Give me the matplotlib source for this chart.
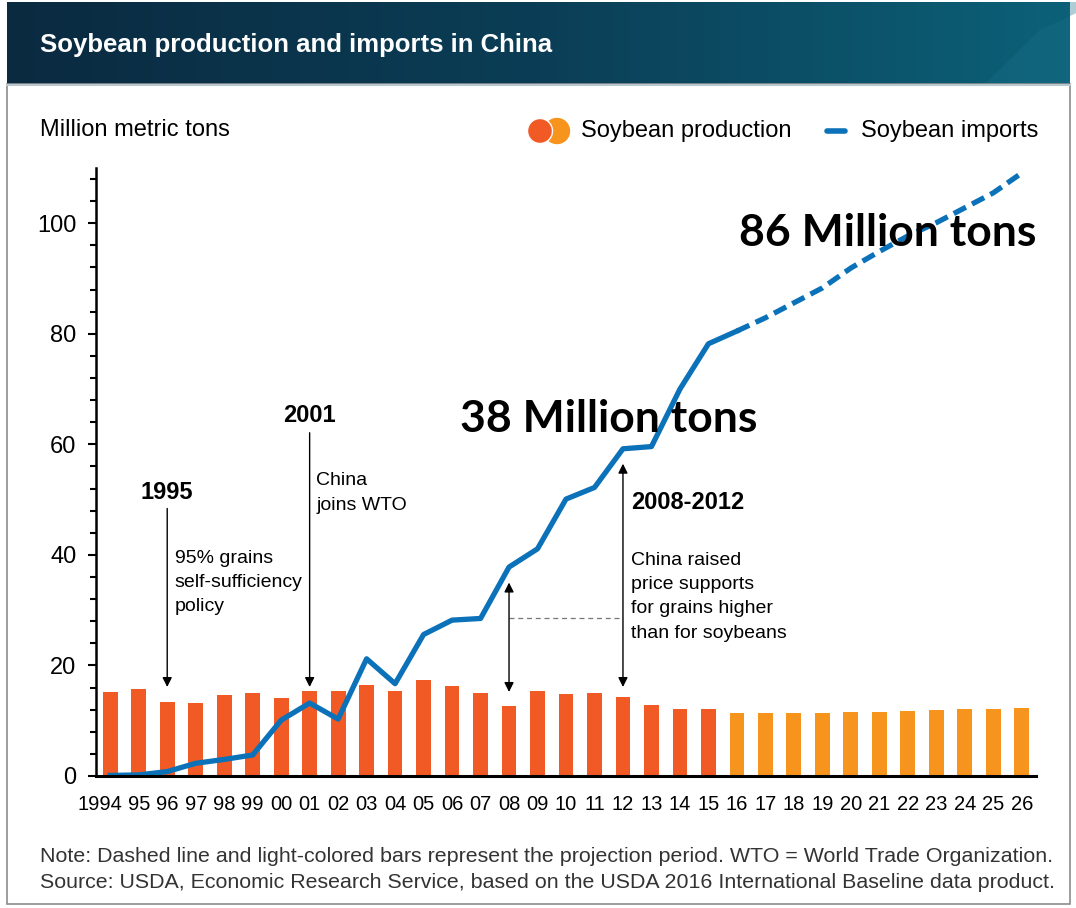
import numpy as np
import matplotlib.pyplot as plt
import matplotlib.transforms as mtransforms
from matplotlib.ticker import MultipleLocator
from matplotlib.patches import Rectangle, Circle, Polygon
from matplotlib.colors import LinearSegmentedColormap

plt.rcParams['font.family'] = ['Liberation Sans', 'DejaVu Sans']

# data (million metric tons)
years = np.arange(1994, 2027)
year_labels = ['1994', '95', '96', '97', '98', '99', '00', '01', '02', '03', '04',
               '05', '06', '07', '08', '09', '10', '11', '12', '13', '14', '15',
               '16', '17', '18', '19', '20', '21', '22', '23', '24', '25', '26']
production = [15.2, 15.8, 13.4, 13.2, 14.6, 15.0, 14.1, 15.3, 15.3, 16.4, 15.3,
              17.3, 16.2, 15.0, 12.6, 15.4, 14.9, 15.0, 14.3, 12.9, 12.1, 12.2,
              11.4, 11.4, 11.4, 11.4, 11.5, 11.6, 11.8, 11.9, 12.1, 12.2, 12.3]
imports = [0.1, 0.2, 0.8, 2.3, 3.0, 3.8, 10.1, 13.2, 10.3, 21.2, 16.7,
           25.6, 28.2, 28.5, 37.8, 41.1, 50.1, 52.2, 59.2, 59.6, 70.0, 78.2,
           80.5, 82.9, 85.6, 88.3, 91.9, 94.9, 97.7, 100.1, 102.8, 105.5, 109.1]
first_projection = 2016

red = '#f15a24'
orange = '#f7941d'
blue = '#0b72b9'

W, H = 1076, 908
fig = plt.figure(figsize=(W / 100, H / 100), dpi=100)

# background: header band + frame, drawn in pixel coordinates
bg = fig.add_axes([0, 0, 1, 1])
bg.set_xlim(0, W)
bg.set_ylim(H, 0)
bg.axis('off')
grad = np.linspace(0, 1, 256).reshape(1, -1)
cmap = LinearSegmentedColormap.from_list('hdr', ['#0a2a40', '#0b3e56', '#0c6178'])
bg.imshow(grad, cmap=cmap, extent=[7, 1070, 84, 2], aspect='auto', zorder=0)
bg.add_patch(Polygon([[985, 84], [1040, 30], [1100, 2], [1070, 2], [1070, 84]],
                     closed=True, color='#1a7088', alpha=0.35, lw=0, zorder=1))
bg.add_patch(Rectangle((7, 84), 1063, 820, fill=False, ec='#8c8c8c', lw=1.2, zorder=1))
bg.plot([7, 1070], [85, 85], color='#b9c7cf', lw=1.5, zorder=1)
bg.text(40, 45, 'Soybean production and imports in China', color='white',
        fontsize=18.5, fontweight='bold', va='center', ha='left')
bg.text(40, 130, 'Million metric tons', fontsize=17, va='center', ha='left')

# legend
bg.add_patch(Circle((557, 131), 12.5, color=orange, zorder=2))
bg.add_patch(Circle((540, 131), 12.5, fc=red, ec='white', lw=1, zorder=3))
bg.text(581, 131, 'Soybean production', fontsize=17, va='center', ha='left')
bg.plot([827, 845], [131, 131], color=blue, lw=4, solid_capstyle='round')
bg.text(861, 131, 'Soybean imports', fontsize=17, va='center', ha='left')

bg.text(40, 857, 'Note: Dashed line and light-colored bars represent the projection period. '
        'WTO = World Trade Organization.', fontsize=15.4, color='#333333', va='center')
bg.text(40, 882, 'Source: USDA, Economic Research Service, based on the USDA 2016 '
        'International Baseline data product.', fontsize=15.4, color='#333333', va='center')

# main chart
ax = fig.add_axes([96 / W, 1 - 776 / H, 940 / W, 608 / H])
ax.patch.set_alpha(0)
bar_colors = [red if y < first_projection else orange for y in years]
ax.bar(years, production, width=0.52, color=bar_colors, zorder=2)

hist = years <= first_projection
proj = years >= first_projection
ax.plot(years[hist], np.array(imports)[hist], color=blue, lw=3.8, zorder=3)
ax.plot(years[proj], np.array(imports)[proj], color=blue, lw=3.8, zorder=3,
        dashes=(2.6, 1.3))

ax.set_xlim(1993.5, 2026.5)
ax.set_ylim(0, 110)
ax.set_xticks(years)
ax.set_xticklabels(year_labels, fontsize=14.5)
ax.yaxis.set_major_locator(MultipleLocator(20))
ax.yaxis.set_minor_locator(MultipleLocator(4))
ax.tick_params(axis='x', length=0, pad=14)
ax.tick_params(axis='y', which='major', length=6, width=1.5, pad=8, labelsize=17)
ax.tick_params(axis='y', which='minor', length=4, width=1.5)
for s in ['top', 'right']:
    ax.spines[s].set_visible(False)
ax.spines['left'].set_linewidth(1.8)
ax.spines['bottom'].set_linewidth(2.2)
ax.spines['bottom'].set_zorder(4)
# first year label sits a little left of its bar
lab0 = ax.get_xticklabels()[0]
lab0.set_transform(lab0.get_transform() +
                   mtransforms.ScaledTranslation(-10 / 100, 0, fig.dpi_scale_trans))

# annotations
arrow = dict(arrowstyle='-|>', color='black', lw=1, mutation_scale=14, shrinkA=0, shrinkB=0)
double = dict(arrowstyle='<|-|>', color='black', lw=1, mutation_scale=14, shrinkA=0, shrinkB=0)

ax.text(1996, 51.3, '1995', fontsize=17, fontweight='bold', ha='center', va='center')
ax.annotate('', xy=(1996, 16.1), xytext=(1996, 48.4), arrowprops=arrow)
ax.text(1996.27, 35.0, '95% grains\nself-sufficiency\npolicy', fontsize=14,
        ha='left', va='center', linespacing=1.55)

ax.text(2001, 65.2, '2001', fontsize=17, fontweight='bold', ha='center', va='center')
ax.annotate('', xy=(2001, 16.1), xytext=(2001, 62.1), arrowprops=arrow)
ax.text(2001.23, 51.2, 'China\njoins WTO', fontsize=14, ha='left',
        va='center', linespacing=1.55)

ax.annotate('', xy=(2008, 15.2), xytext=(2008, 35.0), arrowprops=double)
ax.annotate('', xy=(2012, 16.1), xytext=(2012, 56.5), arrowprops=double)
ax.plot([2008, 2012], [28.6, 28.6], color='#777777', lw=0.9, dashes=(4, 3))
ax.text(2012.28, 49.5, '2008-2012', fontsize=17, fontweight='bold', ha='left', va='center')
ax.text(2012.28, 32.4, 'China raised\nprice supports\nfor grains higher\nthan for soybeans',
        fontsize=14, ha='left', va='center', linespacing=1.55)

ax.text(2011.5, 64.6, '38 Million tons', fontsize=32, fontweight='bold',
        family=['Lato', 'DejaVu Sans'], ha='center', va='center', zorder=5)
ax.text(2021.3, 98.2, '86 Million tons', fontsize=32, fontweight='bold',
        family=['Lato', 'DejaVu Sans'], ha='center', va='center', zorder=5)

fig.savefig('out.png', dpi=100)
